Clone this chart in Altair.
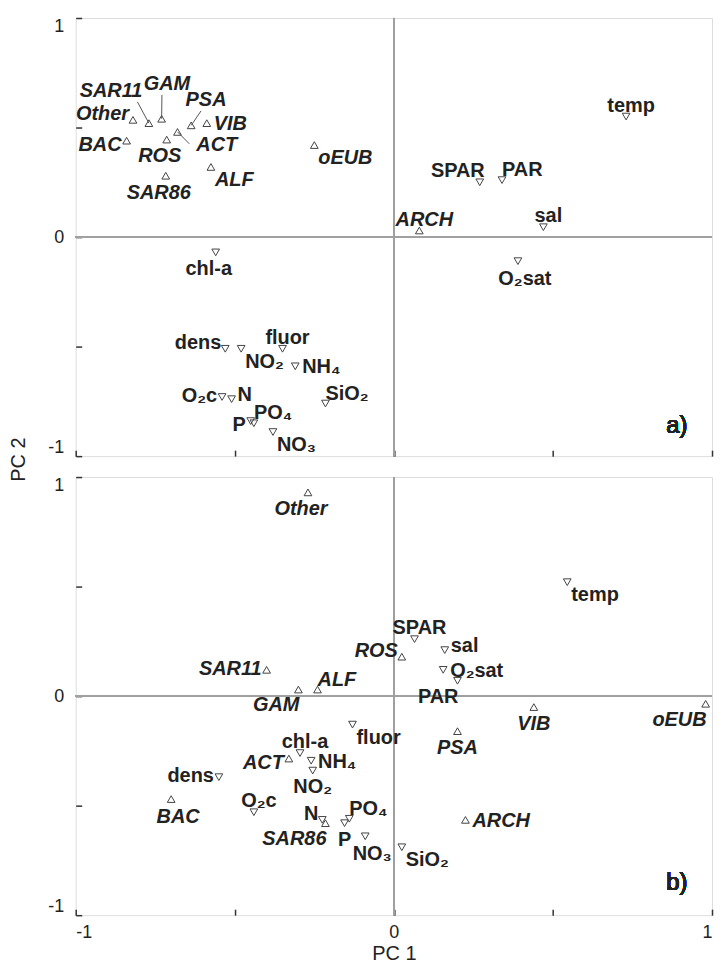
import altair as alt
import pandas as pd

FONT = "Liberation Sans"

# ---------------- Panel a) ----------------
a_names = ["Other", "SAR11", "GAM", "PSA", "VIB", "ACT", "ROS", "BAC", "ALF", "SAR86", "oEUB", "ARCH",
           "temp", "SPAR", "PAR", "sal", "O₂sat", "chl-a", "dens", "NO₂", "fluor", "NH₄", "O₂c", "N",
           "SiO₂", "P", "PO₄", "NO₃"]
a_x = [-0.82, -0.77, -0.73, -0.637, -0.588, -0.68, -0.714, -0.84, -0.575, -0.717, -0.25, 0.08,
       0.73, 0.27, 0.34, 0.47, 0.39, -0.56, -0.53, -0.48, -0.35, -0.31, -0.54, -0.51,
       -0.215, -0.45, -0.44, -0.38]
a_y = [0.535, 0.52, 0.54, 0.51, 0.52, 0.48, 0.445, 0.44, 0.32, 0.28, 0.42, 0.03,
       0.55, 0.25, 0.26, 0.045, -0.11, -0.07, -0.51, -0.51, -0.51, -0.59, -0.73, -0.74,
       -0.76, -0.84, -0.85, -0.89]
a_place = ["lu", "tl", "t", "t", "r", "r", "bw", "ld", "br", "bw", "br", "t",
           "t", "tl", "tr", "t", "be", "bw", "lu", "br", "t", "r", "l", "ru",
           "tr", "ld", "tr", "br"]
a_leaders = {"SAR11": (-0.806, 0.617), "GAM": (-0.729, 0.649),
             "PSA": (-0.606, 0.576), "ACT": (-0.643, 0.426)}

# ---------------- Panel b) ----------------
b_names = ["Other", "SAR11", "GAM", "ALF", "ROS", "VIB", "oEUB", "PSA", "ACT", "BAC", "SAR86", "ARCH",
           "temp", "SPAR", "sal", "O₂sat", "PAR", "fluor", "chl-a", "NH₄", "NO₂", "dens", "O₂c", "N",
           "P", "PO₄", "NO₃", "SiO₂"]
b_x = [-0.27, -0.40, -0.30, -0.24, 0.025, 0.44, 0.98, 0.20, -0.33, -0.70, -0.215, 0.225,
       0.545, 0.065, 0.16, 0.155, 0.20, -0.13, -0.295, -0.26, -0.255, -0.55, -0.44, -0.225,
       -0.155, -0.14, -0.09, 0.025]
b_y = [0.93, 0.12, 0.03, 0.03, 0.18, -0.05, -0.035, -0.16, -0.285, -0.47, -0.58, -0.565,
       0.52, 0.26, 0.21, 0.12, 0.07, -0.13, -0.26, -0.295, -0.34, -0.37, -0.53, -0.565,
       -0.58, -0.56, -0.64, -0.69]
b_place = ["bw", "l", "bl", "tr", "lu", "b", "bl", "b", "ld", "be", "bl", "r",
           "br", "t", "ru", "r", "bl", "br", "t", "r", "b", "l", "t", "lu",
           "b", "tr", "be", "br"]
b_leaders = {}

n_taxa = 12  # first 12 entries of each list are taxa (up triangles), the rest environmental (down)

tick_values = [-1, -0.5, 0, 0.5, 1]
label_expr = "datum.value == -1 ? '-1' : datum.value == 0 ? '0' : datum.value == 1 ? '1' : ''"

PLACES = {
    "t":  dict(align="center", baseline="alphabetic", dx=5, dy=-5),
    "b":  dict(align="center", baseline="top", dx=0, dy=7),
    "bw": dict(align="center", baseline="top", dx=-7, dy=7),
    "be": dict(align="center", baseline="top", dx=7, dy=8),
    "l":  dict(align="right", baseline="middle", dx=-5, dy=-1),
    "lu": dict(align="right", baseline="middle", dx=-4, dy=-6),
    "ld": dict(align="right", baseline="middle", dx=-5, dy=4),
    "r":  dict(align="left", baseline="middle", dx=7, dy=1),
    "ru": dict(align="left", baseline="middle", dx=6, dy=-4),
    "tl": dict(align="right", baseline="alphabetic", dx=5, dy=-5),
    "tr": dict(align="left", baseline="alphabetic", dx=0, dy=-4),
    "bl": dict(align="right", baseline="top", dx=1, dy=6),
    "br": dict(align="left", baseline="top", dx=4, dy=3),
}

W, H = 639, 440


def panel(names, xs, ys, places, leaders, tag, tag_x, tag_y, bottom):
    kinds = ["taxon"] * n_taxa + ["env"] * (len(names) - n_taxa)
    df = pd.DataFrame(dict(name=names, x=xs, y=ys, kind=kinds, place=places))
    df["lx"] = [leaders.get(n, (x, y))[0] for n, x, y in zip(names, xs, ys)]
    df["ly"] = [leaders.get(n, (x, y))[1] for n, x, y in zip(names, xs, ys)]
    df["lead"] = [n in leaders for n in names]

    xs_ = alt.Scale(domain=[-1, 1], nice=False, zero=False)
    ys_ = alt.Scale(domain=[-1, 1], nice=False, zero=False)
    xaxis = alt.Axis(values=tick_values, labelExpr=label_expr, offset=-6, tickSize=6,
                     domain=False, grid=False, labelFlush=True, labels=bottom,
                     labelPadding=8, labelFontSize=18, labelFont=FONT, labelColor="#222",
                     tickColor="#333", tickWidth=1.5,
                     title="PC 1" if bottom else None, titleFont=FONT, titleFontSize=20,
                     titleFontWeight="normal", titleColor="#222", titlePadding=3)
    if bottom:
        yaxis = alt.Axis(values=tick_values, labelExpr=label_expr, offset=-6, tickSize=6,
                         domain=False, grid=False, labelFlush=True, labelPadding=12,
                         labelFontSize=18, labelFont=FONT, labelColor="#222",
                         tickColor="#333", tickWidth=1.5, title=None)
    else:
        yaxis = alt.Axis(values=tick_values, labelExpr=label_expr, offset=-6, tickSize=6,
                         domain=False, grid=False, labelFlush=True, labelPadding=12,
                         labelFontSize=18, labelFont=FONT, labelColor="#222",
                         tickColor="#333", tickWidth=1.5,
                         title="PC 2", titleFont=FONT, titleFontSize=20, titleFontWeight="normal",
                         titleColor="#222", titleX=-63, titleY=443, titleAngle=270,
                         titleAlign="center", titleBaseline="middle")

    X = lambda f: alt.X(f, type="quantitative", scale=xs_, axis=xaxis)
    Y = lambda f: alt.Y(f, type="quantitative", scale=ys_, axis=yaxis)

    base = alt.Chart(df)
    zero_v = base.mark_rule(color="#a0a0a0", strokeWidth=1).encode(x=alt.datum(0, scale=xs_))
    zero_h = base.mark_rule(color="#a0a0a0", strokeWidth=1).encode(y=alt.datum(0, scale=ys_))
    pts = base.mark_point(filled=False, size=60, strokeWidth=1, color="#444", opacity=1).encode(
        x=X("x"), y=Y("y"),
        shape=alt.Shape("kind:N", scale=alt.Scale(domain=["taxon", "env"],
                                                   range=["triangle-up", "triangle-down"]),
                        legend=None))
    layers = [pts, zero_v, zero_h]
    if leaders:
        lead = base.transform_filter("datum.lead").mark_rule(color="#555", strokeWidth=1).encode(
            x=X("x"), y=Y("y"), x2="lx", y2="ly")
        layers.append(lead)
    for p, st in PLACES.items():
        for k in ["taxon", "env"]:
            sub = df[(df.place == p) & (df.kind == k)]
            if len(sub) == 0:
                continue
            t = base.transform_filter(
                f"datum.place == '{p}' && datum.kind == '{k}'"
            ).mark_text(font=FONT, fontSize=20, fontWeight="bold",
                        fontStyle="italic" if k == "taxon" else "normal",
                        color="#222", **st).encode(x=X("lx"), y=Y("ly"), text="name:N")
            layers.append(t)
    tagm = base.mark_text(font=FONT, fontSize=24, color="#222", align="right",
                          baseline="middle").encode(
        x=alt.datum(tag_x, scale=xs_), y=alt.datum(tag_y, scale=ys_), text=alt.datum(tag))
    layers.append(tagm)
    return alt.layer(*layers).properties(width=W, height=H)


pa = panel(a_names, a_x, a_y, a_place, a_leaders, "a)", 0.923, -0.862, bottom=False)
pb = panel(b_names, b_x, b_y, b_place, b_leaders, "b)", 0.923, -0.855, bottom=True)

chart = alt.vconcat(pa, pb, spacing=21, bounds="flush").properties(
    padding={"left": 0, "top": 6, "right": 0, "bottom": 0}
).configure_view(stroke="#222", strokeWidth=2).configure(background="white")

chart.save("out.html", embed_options={"renderer": "svg", "actions": False})
